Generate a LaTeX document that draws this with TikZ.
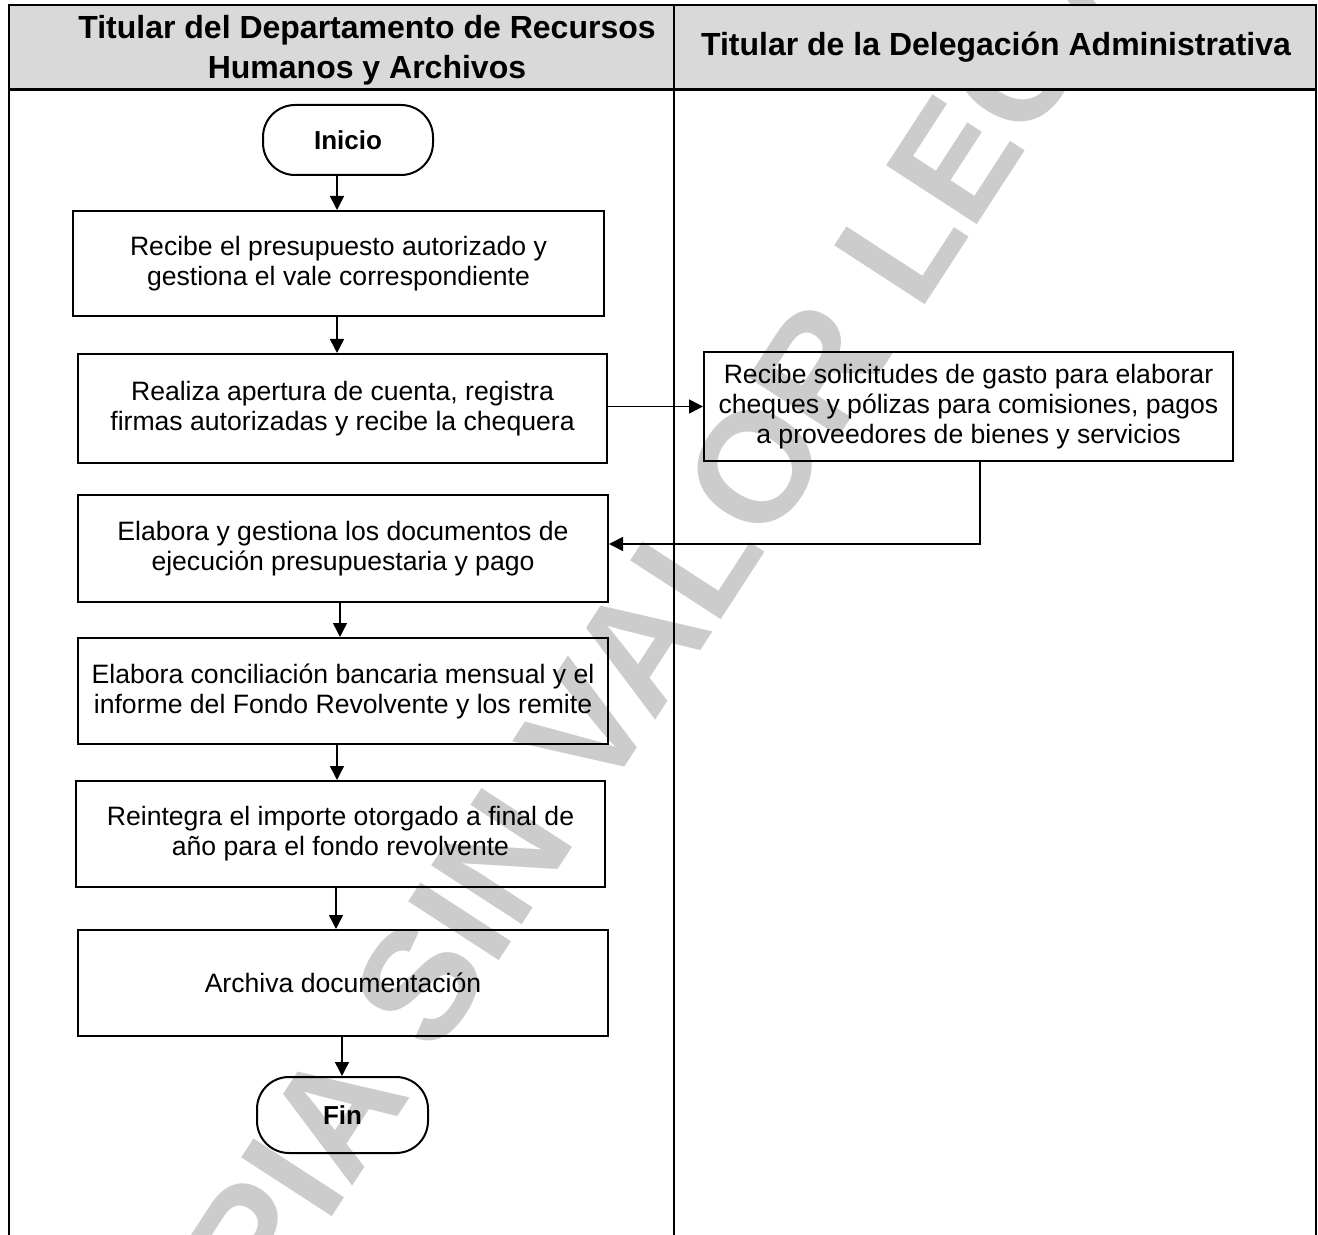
\documentclass[tikz,border=0pt]{standalone}
\usepackage{fontspec}
\setmainfont{Liberation Sans}
\usetikzlibrary{arrows.meta}
\definecolor{hdr}{HTML}{D9D9D9}
\definecolor{wm}{HTML}{CCCCCC}
\begin{document}
\begin{tikzpicture}[x=0.5pt,y=-0.5pt,
  box/.style={draw, line width=1pt, align=center, inner sep=0pt, font=\fontsize{13.3}{15}\selectfont},
  term/.style={draw, line width=1pt, rounded corners=16pt, inner sep=0pt, font=\fontsize{13}{15}\selectfont\bfseries},
  arr/.style={line width=0.75pt, -{Triangle[length=7pt,width=7pt]}},
  lane/.style={line width=1.25pt},
  hdrtext/.style={align=center, inner sep=0pt, font=\fontsize{16}{20}\selectfont\bfseries}]
\useasboundingbox (0,0) rectangle (1318,1235);
% watermark
\begin{scope}
  \clip (0,0) rectangle (1318,1235);
  \node[rotate=57, text=wm, inner sep=0pt, font=\fontsize{78.5}{80}\selectfont\bfseries] (wmk) at (630,660) {COPIA SIN VALOR LEGAL};
\end{scope}
% header and lanes
\fill[hdr] (9,5) rectangle (1316,90);
\draw[lane] (9,1235) -- (9,5) -- (1316,5) -- (1316,1235);
\draw[line width=1.5pt] (9,90) -- (1316,90);
\draw[line width=1pt] (674,5) -- (674,1235);
\node[hdrtext] (h1) at (367,50.5) {Titular del Departamento de Recursos\\Humanos y Archivos};
\node[hdrtext] (h2) at (996,47.5) {Titular de la Delegación Administrativa};
% nodes
\node[term, minimum width=85pt, minimum height=35pt] (ini) at (348,140) {Inicio};
\node[box, minimum width=265.5pt, minimum height=52.5pt] (b1) at (338.5,263.5) {Recibe el presupuesto autorizado y\\gestiona el vale correspondiente};
\node[box, minimum width=264.5pt, minimum height=54.5pt] (b2) at (342.5,408.5) {Realiza apertura de cuenta, registra\\firmas autorizadas y recibe la chequera};
\node[box, minimum width=264.5pt, minimum height=54.5pt] (rb) at (968.5,406.5) {Recibe solicitudes de gasto para elaborar\\cheques y pólizas para comisiones, pagos\\a proveedores de bienes y servicios};
\node[box, minimum width=265pt, minimum height=53.5pt] (b3) at (343,548.5) {Elabora y gestiona los documentos de\\ejecución presupuestaria y pago};
\node[box, minimum width=265pt, minimum height=53pt] (b4) at (343,691) {Elabora conciliación bancaria mensual y el\\informe del Fondo Revolvente y los remite};
\node[box, minimum width=264.5pt, minimum height=53pt] (b5) at (340.5,834) {Reintegra el importe otorgado a final de\\año para el fondo revolvente};
\node[box, minimum width=265pt, minimum height=53pt] (b6) at (343,983) {Archiva documentación};
\node[term, minimum width=85.5pt, minimum height=38pt] (fin) at (342.5,1115) {Fin};
% connectors
\draw[arr] ([xshift=-5.5pt]ini.south) -- ([xshift=-5.5pt]ini.south |- b1.north);
\draw[arr] ([xshift=-0.75pt]b1.south) -- ([xshift=-0.75pt]b1.south |- b2.north);
\draw[arr] (b2.east |- rb.west) -- (rb.west);
\draw[arr] ([xshift=5.75pt]rb.south) |- ([yshift=2.25pt]b3.east);
\draw[arr] ([xshift=-1.5pt]b3.south) -- ([xshift=-1.5pt]b3.south |- b4.north);
\draw[arr] ([xshift=-3pt]b4.south) -- ([xshift=-3pt]b4.south |- b5.north);
\draw[arr] ([xshift=-2.25pt]b5.south) -- ([xshift=-2.25pt]b5.south |- b6.north);
\draw[arr] ([xshift=-0.5pt]b6.south) -- ([xshift=-0.5pt]b6.south |- fin.north);
\end{tikzpicture}
\end{document}
